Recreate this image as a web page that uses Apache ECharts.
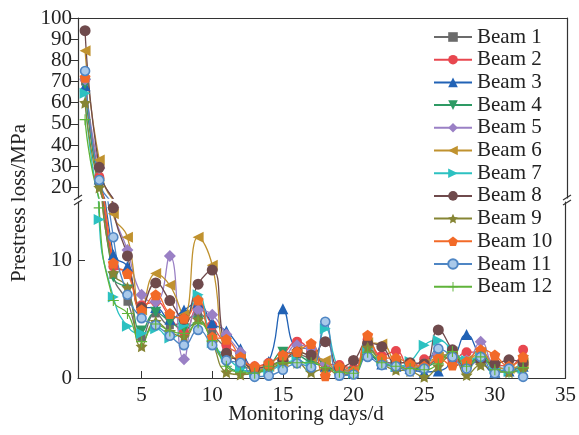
<!DOCTYPE html>
<html>
<head>
<meta charset="utf-8">
<script src="https://cdn.jsdelivr.net/npm/echarts@6/dist/echarts.min.js"></script>
<style>
html, body { margin: 0; padding: 0; background: #fff; }
#chart { width: 579px; height: 435px; }
</style>
</head>
<body>
<div id="chart"></div>
<script>
var days = [1, 2, 3, 4, 5, 6, 7, 8, 9, 10, 11, 12, 13, 14, 15, 16, 17, 18, 19, 20, 21, 22, 23, 24, 25, 26, 27, 28, 29, 30, 31, 32];

var beam1  = [70, 22, 8.8, 6.5, 3.5, 5.5, 4.5, 4.8, 5.5, 3.8, 2.5, 1.2, 0.8, 1.0, 1.5, 2.0, 1.6, 1.0, 0.8, 0.6, 2.5, 1.5, 1.2, 0.9, 1.0, 1.6, 1.8, 1.2, 2.0, 1.0, 0.8, 1.2];
var beam2  = [71, 25, 9.5, 9.0, 6.2, 6.5, 5.2, 3.9, 6.0, 4.5, 2.8, 2.0, 1.0, 1.3, 2.0, 3.1, 2.3, 1.2, 1.1, 0.8, 3.3, 1.9, 2.3, 0.9, 1.6, 2.0, 1.5, 2.2, 2.2, 1.2, 1.0, 2.4];
var beam3  = [68, 24, 10.5, 9.5, 6.0, 6.0, 5.0, 5.8, 6.4, 4.7, 4.0, 2.5, 0.8, 1.4, 5.9, 2.6, 2.5, 1.0, 0.7, 0.5, 2.0, 1.2, 1.0, 0.8, 0.5, 0.6, 1.5, 3.7, 1.8, 0.5, 0.6, 1.0];
var beam4  = [69, 21, 8.6, 7.5, 4.0, 5.6, 4.8, 4.2, 4.8, 3.3, 1.2, 0.6, 0.6, 1.0, 2.2, 2.0, 1.3, 1.0, 0.6, 0.5, 2.2, 1.2, 1.0, 0.8, 0.9, 1.5, 2.2, 1.0, 2.0, 0.8, 0.6, 1.5];
var beam5  = [71, 29, 14.5, 10.9, 7.1, 6.5, 10.4, 1.6, 5.8, 5.4, 3.7, 2.2, 0.8, 0.8, 1.5, 2.8, 2.5, 1.2, 0.7, 0.5, 2.8, 1.5, 1.1, 0.9, 1.2, 2.0, 2.0, 1.5, 3.1, 1.0, 0.8, 1.1];
var beam6  = [84.5, 33, 14, 12, 5.8, 8.9, 7.9, 5.4, 12.0, 9.6, 2.0, 1.6, 0.6, 1.0, 1.4, 2.3, 1.8, 1.5, 0.6, 0.6, 3.0, 2.9, 1.3, 0.8, 1.2, 1.8, 2.0, 1.5, 2.2, 1.0, 0.8, 1.3];
var beam7  = [64.5, 13.5, 6.9, 4.4, 3.8, 4.2, 3.4, 4.5, 7.1, 3.0, 1.8, 0.8, 0.5, 0.6, 1.2, 1.5, 1.0, 4.2, 0.8, 0.4, 2.5, 1.5, 1.0, 1.4, 2.8, 3.2, 2.4, 1.5, 1.8, 0.8, 0.6, 0.8];
var beam8  = [94, 29.5, 14.5, 10.4, 6.0, 8.1, 6.6, 5.0, 8.0, 9.2, 2.1, 1.5, 0.8, 1.1, 1.5, 2.2, 1.95, 3.1, 0.9, 1.5, 2.95, 2.67, 1.3, 1.3, 1.2, 4.1, 2.4, 1.0, 1.5, 1.2, 1.55, 1.3];
var beam9  = [60, 20, 8.95, 7.7, 2.7, 4.8, 3.95, 3.5, 5.0, 3.0, 0.5, 0.3, 0.4, 0.8, 1.2, 1.3, 0.5, 0.8, 0.3, 0.4, 2.6, 1.3, 0.7, 0.6, 0.1, 1.0, 2.0, 0.25, 1.1, 0.6, 0.5, 0.7];
var beam10 = [72, 24, 9.8, 8.9, 5.8, 7.1, 5.5, 5.1, 6.65, 3.5, 3.3, 1.8, 1.0, 1.25, 1.95, 2.25, 2.95, 0.2, 1.0, 0.6, 3.65, 1.7, 1.7, 1.2, 1.0, 1.7, 1.1, 1.4, 2.4, 1.95, 1.0, 1.8];
var beam11 = [75, 23.5, 12.0, 7.1, 5.1, 4.5, 3.6, 2.8, 4.1, 2.8, 1.5, 1.3, 0.1, 0.2, 0.7, 1.25, 0.9, 4.8, 0.2, 0.3, 1.8, 1.1, 1.0, 0.55, 0.8, 2.5, 1.8, 0.8, 1.8, 0.4, 0.8, 0.1];
var beam12 = [52, 14.5, 6.6, 5.5, 3.1, 4.6, 4.0, 3.8, 4.7, 3.2, 1.0, 0.5, 0.4, 1.0, 1.3, 1.3, 1.3, 0.9, 0.5, 0.4, 2.2, 1.3, 1.0, 0.8, 0.7, 1.2, 2.25, 1.0, 1.8, 0.7, 0.5, 0.9];

var names = ['Beam 1', 'Beam 2', 'Beam 3', 'Beam 4', 'Beam 5', 'Beam 6', 'Beam 7', 'Beam 8', 'Beam 9', 'Beam 10', 'Beam 11', 'Beam 12'];
var values = [beam1, beam2, beam3, beam4, beam5, beam6, beam7, beam8, beam9, beam10, beam11, beam12];

var xTicks = [5, 10, 15, 20, 25, 30, 35];
var upperTicks = [20, 30, 40, 50, 60, 70, 80, 90, 100];
var lowerTicks = [0, 10];

var colors = ['#6b6b6b', '#e8474f', '#2162b5', '#2e9a64', '#9a80c5', '#c0922f', '#2cc1c1', '#6f4a4c', '#868534', '#f26a28', '#4f86c4', '#5fb33a'];
var star = 'path://M0,-10L2.9,-4L9.5,-3.1L4.8,1.5L5.9,8.1L0,5L-5.9,8.1L-4.8,1.5L-9.5,-3.1L-2.9,-4Z';
var pentagon = 'path://M0,-10L9.5,-3.1L5.9,8.1L-5.9,8.1L-9.5,-3.1Z';
var plus = 'path://M-1,-10H1V-1H10V1H1V10H-1V1H-10V-1H-1Z';
var symbols = ['rect', 'circle', 'triangle', 'triangle', 'diamond', 'triangle', 'triangle', 'circle', star, pentagon, 'circle', plus];
var rotates = [0, 0, 0, 180, 0, 90, -90, 0, 0, 0, 0, 0];
var sizes = [8, 10, 11, 11, 12, 11, 11, 11, 12, 11, 9, 11];

var font = '"Liberation Serif", "Times New Roman", serif';
var ink = '#222';

var chart = echarts.init(document.getElementById('chart'));

var series = [];
[0, 1].forEach(function (g) {
  values.forEach(function (vals, i) {
    series.push({
      name: names[i],
      type: 'line',
      xAxisIndex: g,
      yAxisIndex: g * 2,
      smooth: 0.5,
      clip: true,
      symbol: symbols[i],
      symbolSize: sizes[i],
      symbolRotate: rotates[i],
      lineStyle: { width: 1.3, color: colors[i] },
      itemStyle: i === 10
        ? { color: '#a9c9ea', borderColor: colors[i], borderWidth: 1.6 }
        : { color: colors[i] },
      emphasis: { disabled: true },
      data: days.map(function (d, k) { return [d, vals[k]]; })
    });
  });
});

var xBase = {
  type: 'value', min: 0.5, max: 35,
  splitLine: { show: false },
  axisLine: { show: true, lineStyle: { color: '#333', width: 1.2 } }
};

chart.setOption({
  animation: false,
  color: colors,
  textStyle: { fontFamily: font },
  grid: [
    { left: 78, right: 12, top: 18, height: 180 },
    { left: 78, right: 12, top: 202, height: 176 }
  ],
  xAxis: [
    Object.assign({}, xBase, {
      gridIndex: 0, position: 'top',
      axisTick: { show: false }, axisLabel: { show: false }
    }),
    Object.assign({}, xBase, {
      gridIndex: 1, position: 'bottom',
      axisTick: { show: true, inside: true, length: 7, customValues: xTicks, lineStyle: { color: '#333' } },
      axisLabel: { show: true, customValues: xTicks, color: ink, fontSize: 21, fontFamily: font, margin: 7 }
    })
  ],
  yAxis: [
    {
      type: 'value', gridIndex: 0, position: 'left', min: 15, max: 100,
      splitLine: { show: false },
      axisLine: { show: true, lineStyle: { color: '#333', width: 1.2 } },
      axisTick: { show: true, inside: false, length: 7, customValues: upperTicks, lineStyle: { color: '#333' } },
      axisLabel: { show: true, customValues: upperTicks, color: ink, fontSize: 21, fontFamily: font, margin: 6 }
    },
    {
      type: 'value', gridIndex: 0, position: 'right', min: 15, max: 100,
      splitLine: { show: false },
      axisLine: { show: true, lineStyle: { color: '#333', width: 1.2 } },
      axisTick: { show: false }, axisLabel: { show: false }
    },
    {
      type: 'value', gridIndex: 1, position: 'left', min: 0, max: 15,
      splitLine: { show: false },
      axisLine: { show: true, lineStyle: { color: '#333', width: 1.2 } },
      axisTick: { show: true, inside: true, length: 7, customValues: lowerTicks, lineStyle: { color: '#333' } },
      axisLabel: { show: true, customValues: lowerTicks, color: ink, fontSize: 21, fontFamily: font, margin: 6 }
    },
    {
      type: 'value', gridIndex: 1, position: 'right', min: 0, max: 15,
      splitLine: { show: false },
      axisLine: { show: true, lineStyle: { color: '#333', width: 1.2 } },
      axisTick: { show: false }, axisLabel: { show: false }
    }
  ],
  legend: {
    data: names,
    orient: 'vertical',
    left: 428, top: 21,
    itemWidth: 38, itemHeight: 12,
    itemGap: 0.7,
    textStyle: { fontSize: 21, fontFamily: font, color: ink, lineHeight: 22 }
  },
  graphic: [
    // axis break marks
    { type: 'line', shape: { x1: 74, y1: 200, x2: 82, y2: 195 }, style: { stroke: '#333', lineWidth: 1.2 } },
    { type: 'line', shape: { x1: 74, y1: 205, x2: 82, y2: 200 }, style: { stroke: '#333', lineWidth: 1.2 } },
    { type: 'line', shape: { x1: 563, y1: 200, x2: 571, y2: 195 }, style: { stroke: '#333', lineWidth: 1.2 } },
    { type: 'line', shape: { x1: 563, y1: 205, x2: 571, y2: 200 }, style: { stroke: '#333', lineWidth: 1.2 } },
    {
      type: 'text', x: 19, y: 203, rotation: Math.PI / 2,
      style: { text: 'Prestress loss/MPa', font: '21px ' + font, fill: ink, textAlign: 'center', textVerticalAlign: 'middle' }
    },
    {
      type: 'text', x: 306, y: 414,
      style: { text: 'Monitoring days/d', font: '21px ' + font, fill: ink, textAlign: 'center', textVerticalAlign: 'middle' }
    }
  ],
  series: series
});
</script>
</body>
</html>
